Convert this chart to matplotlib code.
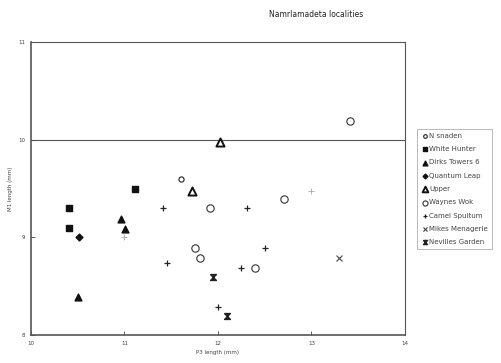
import matplotlib
matplotlib.use("Agg")
import matplotlib.pyplot as plt

# P3 length (x) and M1 length (y) per locality
n_snaden_x = [11.61]
n_snaden_y = [9.60]
white_hunter_x = [10.41, 10.41, 11.11]
white_hunter_y = [9.30, 9.10, 9.50]
dirks_towers_x = [10.50, 10.96, 11.01]
dirks_towers_y = [8.39, 9.19, 9.09]
quantum_leap_x = [10.51]
quantum_leap_y = [9.00]
upper_x = [12.02, 11.72]
upper_y = [9.98, 9.48]
waynes_wok_x = [11.91, 11.75, 11.81, 12.71, 12.40, 13.41]
waynes_wok_y = [9.30, 8.89, 8.79, 9.39, 8.69, 10.19]
camel_x = [11.41, 11.46, 12.25, 12.31, 12.00, 12.50]
camel_y = [9.30, 8.74, 8.69, 9.30, 8.29, 8.89]
faint_x = [11.00, 13.00]
faint_y = [9.00, 9.48]
mikes_x = [13.30]
mikes_y = [8.79]
nevilles_x = [11.95, 12.10]
nevilles_y = [8.59, 8.19]

x_ticks = [10, 11, 12, 13, 14]
y_ticks = [8, 9, 10, 11]

hourglass = [(-1, 1), (1, 1), (-1, -1), (1, -1), (-1, 1)]

fig = plt.figure(figsize=(5.01, 3.63), dpi=100)
ax = fig.add_axes([0.062, 0.077, 0.746, 0.807])

ax.axhline(10, color="#555555", lw=0.8, zorder=0)

ax.scatter(n_snaden_x, n_snaden_y, marker="o", s=14, facecolors="white",
           edgecolors="#222222", linewidths=0.8, label="N snaden")
ax.scatter(white_hunter_x, white_hunter_y, marker="s", s=22, color="#111111",
           label="White Hunter")
ax.scatter(dirks_towers_x, dirks_towers_y, marker="^", s=24, color="#111111",
           label="Dirks Towers 6")
ax.scatter(quantum_leap_x, quantum_leap_y, marker="D", s=12, color="#111111",
           label="Quantum Leap")
ax.scatter(upper_x, upper_y, marker="^", s=34, facecolors="white",
           edgecolors="#111111", linewidths=1.4, label="Upper")
ax.scatter(waynes_wok_x, waynes_wok_y, marker="o", s=28, facecolors="white",
           edgecolors="#333333", linewidths=0.8, label="Waynes Wok")
ax.scatter(camel_x, camel_y, marker="+", s=22, color="#222222",
           linewidths=0.9, label="Camel Spuitum")
ax.scatter(faint_x, faint_y, marker="+", s=14, color="#aaaaaa",
           linewidths=0.6)
ax.scatter(mikes_x, mikes_y, marker="x", s=18, color="#444444",
           linewidths=0.8, label="Mikes Menagerie")
ax.scatter(nevilles_x, nevilles_y, marker=hourglass, s=18, color="#222222",
           label="Nevilles Garden")

ax.set_xlim(10, 14)
ax.set_ylim(8, 11)
ax.set_xticks(x_ticks)
ax.set_yticks(y_ticks)
ax.tick_params(direction="in", length=3, width=0.6, labelsize=4,
               colors="#444444", pad=4)
for side in ["left", "bottom"]:
    ax.spines[side].set_linewidth(1.2)
for side in ["top", "right"]:
    ax.spines[side].set_linewidth(0.8)
for sp in ax.spines.values():
    sp.set_color("#555555")

ax.set_xlabel("P3 length (mm)", fontsize=4, color="#444444", labelpad=3)
ax.set_ylabel("M1 length (mm)", fontsize=4, color="#444444", labelpad=4)
fig.text(0.63, 0.96, "Namrlamadeta localities", fontsize=5.5,
         ha="center", va="center", color="#222222")

leg = fig.legend(loc="upper left", bbox_to_anchor=(0.826, 0.655),
                 fontsize=5, frameon=True, fancybox=False,
                 handletextpad=0.2, borderpad=0.6, labelspacing=1.05,
                 handlelength=0.9, markerscale=0.7)
leg.get_frame().set_edgecolor("#999999")
leg.get_frame().set_linewidth(0.6)
for t in leg.get_texts():
    t.set_color("#444444")

fig.savefig("out.png", dpi=100)
